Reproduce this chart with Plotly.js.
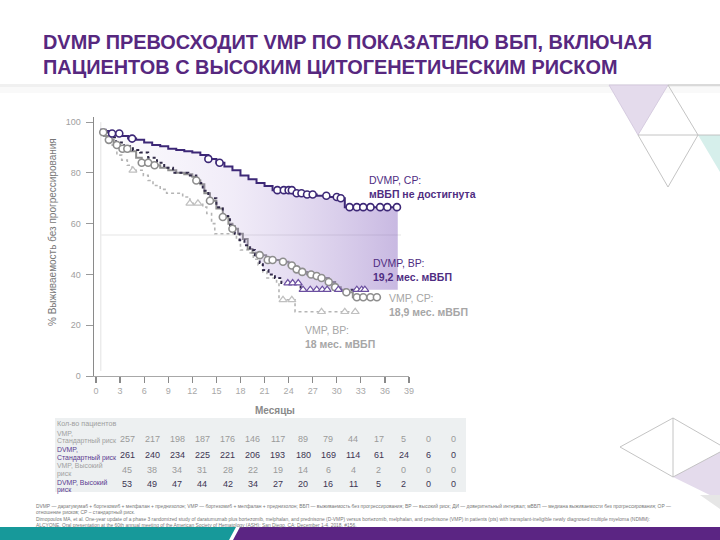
<!DOCTYPE html>
<html><head><meta charset="utf-8">
<script src="https://cdn.plot.ly/plotly-3.0.1.min.js"></script>
<style>html,body{margin:0;padding:0;background:#fff}#chart{width:720px;height:540px}</style>
</head><body><div id="chart"></div>
<script>
// ---------- DATA ----------
const xTickVals = [0, 3, 6, 9, 12, 15, 18, 21, 24, 27, 30, 33, 36, 39];
const yTickVals = [0, 20, 40, 60, 80, 100];

// DVMP, standard risk (solid dark purple)
const dvmpSrMonths = [0.5, 1.2, 2.0, 3.0, 4.0, 5.0, 6.0, 7.0, 8.0, 9.0, 10.0, 11.0, 12.0, 13.0, 14.0, 15.0, 16.0, 17.0, 18.0, 19.0, 20.0, 21.0, 22.0, 24.5, 26.0, 27.5, 29.0, 30.5, 31.0, 37.6];
const dvmpSrSurv   = [97.0, 96.5, 95.5, 94.5, 93.5, 93.0, 92.0, 91.0, 90.5, 89.5, 89.0, 88.5, 88.0, 87.0, 85.5, 84.0, 82.5, 81.0, 79.0, 77.5, 76.0, 74.8, 73.2, 72.0, 71.5, 71.0, 70.5, 70.0, 66.5, 66.5];
const dvmpSrCensor = [2.0, 2.9, 4.5, 14.0, 15.4, 22.6, 23.4, 24.0, 24.4, 25.0, 25.6, 26.3, 27.0, 28.7, 30.0, 30.5, 31.6, 32.5, 33.3, 34.2, 35.4, 36.3, 37.5];

// VMP, standard risk (solid grey)
const vmpSrMonths = [0.5, 1.0, 1.5, 2.2, 3.0, 4.0, 5.0, 5.7, 7.0, 8.0, 9.0, 10.0, 11.0, 12.0, 12.5, 13.0, 13.5, 14.2, 15.0, 15.8, 16.5, 17.0, 17.7, 18.3, 18.9, 19.5, 20.0, 21.2, 23.0, 24.0, 24.8, 25.6, 26.3, 27.2, 28.1, 29.0, 29.8, 30.5, 31.2, 32.0, 35.0];
const vmpSrSurv   = [96.0, 94.5, 93.0, 91.0, 89.5, 88.5, 86.0, 84.0, 83.0, 82.0, 81.0, 80.0, 79.5, 78.5, 77.0, 75.5, 72.0, 69.0, 66.0, 62.6, 60.0, 58.0, 56.0, 54.0, 50.0, 48.5, 47.6, 45.7, 45.0, 43.5, 42.0, 41.0, 40.0, 39.4, 38.6, 37.0, 35.0, 34.0, 33.0, 31.0, 31.0];
const vmpSrCensor = [0.9, 1.6, 2.6, 3.3, 3.9, 5.7, 6.5, 7.3, 12.5, 14.2, 15.8, 17.0, 20.4, 21.4, 22.0, 23.3, 24.4, 25.0, 25.7, 26.8, 27.5, 28.1, 29.0, 29.8, 31.2, 32.5, 33.3, 34.2, 35.0];

// DVMP, high risk (dark dotted)
const dvmpHrMonths = [0.5, 1.5, 2.5, 3.5, 4.6, 5.5, 6.5, 7.6, 8.5, 9.6, 11.5, 12.5, 13.0, 13.3, 14.0, 15.0, 15.8, 16.7, 17.3, 17.9, 18.5, 19.2, 19.8, 20.4, 20.8, 21.5, 22.3, 23.1, 25.5, 33.5];
const dvmpHrSurv   = [96.0, 94.0, 92.0, 90.5, 89.0, 88.0, 86.0, 84.0, 82.0, 80.0, 79.0, 77.0, 76.0, 73.0, 70.0, 66.5, 63.0, 59.5, 56.0, 53.5, 51.5, 49.6, 47.0, 44.5, 41.7, 40.0, 38.6, 36.6, 34.0, 34.0];
const dvmpHrCensor = [23.9, 24.5, 25.2, 25.8, 26.7, 27.5, 28.2, 28.8, 30.2, 32.5, 33.1, 33.5];

// VMP, high risk (light grey dotted)
const vmpHrMonths = [0.5, 1.5, 2.0, 2.6, 3.2, 3.9, 4.5, 5.9, 6.5, 7.1, 8.0, 8.8, 10.8, 11.7, 13.3, 13.8, 14.4, 14.8, 17.5, 18.0, 19.0, 19.6, 20.2, 20.8, 21.3, 22.5, 22.8, 24.8, 32.6];
const vmpHrSurv   = [96.0, 94.0, 91.0, 87.0, 85.0, 83.0, 81.0, 79.0, 77.0, 75.0, 73.5, 72.0, 70.5, 68.0, 66.5, 64.0, 60.0, 56.0, 53.5, 49.6, 48.5, 46.0, 43.7, 41.0, 38.6, 36.6, 30.0, 25.3, 25.3];
const vmpHrCensor = [4.6, 11.7, 12.7, 23.3, 24.4, 28.1, 31.0, 32.3];

// Number at risk table
const riskHeader = 'Кол-во пациентов';
const riskRowLabels = [['VMP,', 'Стандартный риск'], ['DVMP,', 'Стандартный риск'], ['VMP, Высокий', 'риск'], ['DVMP, Высокий', 'риск']];
const vmpSrAtRisk  = [257, 217, 198, 187, 176, 146, 117, 89, 79, 44, 17, 5, 0, 0];
const dvmpSrAtRisk = [261, 240, 234, 225, 221, 206, 193, 180, 169, 114, 61, 24, 6, 0];
const vmpHrAtRisk  = [45, 38, 34, 31, 28, 22, 19, 14, 6, 4, 2, 0, 0, 0];
const dvmpHrAtRisk = [53, 49, 47, 44, 42, 34, 27, 20, 16, 11, 5, 2, 0, 0];

const titleText = 'DVMP ПРЕВОСХОДИТ VMP ПО ПОКАЗАТЕЛЮ ВБП, ВКЛЮЧАЯ<br>ПАЦИЕНТОВ С ВЫСОКИМ ЦИТОГЕНЕТИЧЕСКИМ РИСКОМ';
const footText = 'DVMP — даратумумаб + бортезомиб + мелфалан + преднизолон; VMP — бортезомиб + мелфалан + преднизолон; ВБП — выживаемость без прогрессирования; ВР — высокий риск; ДИ — доверительный интервал; мВБП — медиана выживаемости без прогрессирования; ОР —<br>' +
  'отношение рисков; СР – стандартный риск.<br>' +
  'Dimopoulos MA, et al. One-year update of a phase 3 randomized study of daratumumab plus bortezomib, melphalan, and prednisone (D-VMP) versus bortezomib, melphalan, and prednisone (VMP) in patients (pts) with transplant-ineligible newly diagnosed multiple myeloma (NDMM):<br>' +
  'ALCYONE. Oral presentation at the 60th annual meeting of the American Society of Hematology (ASH); San Diego, CA; December 1-4, 2018. #156.';

// ---------- LAYOUT HELPERS ----------
const W = 720, H = 540, ML = 94, MR = 311, MT = 117, MB = 164;
const PW = W - ML - MR, PH = H - MT - MB;
const px = v => (v - ML) / PW;
const py = v => (H - MB - v) / PH;
const FONT = 'Liberation Sans, Arial, sans-serif';
const DARK_PURPLE = '#3d2877';
const LABEL_PURPLE = '#4f2d82';

function stepAt(ms, ss, t) { let v = ss[0]; for (let i = 0; i < ms.length; i++) if (ms[i] <= t) v = ss[i]; return v; }

const traces = [];
function curve(ms, ss, color, width, dash) {
  traces.push({x: ms, y: ss, type: 'scatter', mode: 'lines', line: {shape: 'hv', color: color, width: width, dash: dash}, hoverinfo: 'skip', showlegend: false});
}
function censor(ms, ss, cs, symbol, color, size, lw) {
  traces.push({x: cs, y: cs.map(t => stepAt(ms, ss, t)), type: 'scatter', mode: 'markers',
    marker: {symbol: symbol, size: size, color: '#ffffff', line: {color: color, width: lw}}, hoverinfo: 'skip', showlegend: false});
}

curve(vmpHrMonths, vmpHrSurv, '#b5b5b5', 1.6, 'dot');
curve(vmpSrMonths, vmpSrSurv, '#8e8e8e', 2, 'solid');
curve(dvmpHrMonths, dvmpHrSurv, '#2a2440', 2, 'dot');
// fill base: DVMP high-risk curve carried forward to end of DVMP standard-risk follow-up
const lastSr = dvmpSrMonths[dvmpSrMonths.length - 1];
traces.push({x: dvmpHrMonths.concat([lastSr]), y: dvmpHrSurv.concat([dvmpHrSurv[dvmpHrSurv.length - 1]]), type: 'scatter', mode: 'lines',
  line: {shape: 'hv', width: 0, color: 'rgba(0,0,0,0)'}, hoverinfo: 'skip', showlegend: false});
traces.push({x: dvmpSrMonths, y: dvmpSrSurv, type: 'scatter', mode: 'lines', line: {shape: 'hv', color: DARK_PURPLE, width: 2},
  fill: 'tonexty', fillgradient: {type: 'horizontal', colorscale: [[0, 'rgba(185,165,220,0.04)'], [0.45, 'rgba(165,135,210,0.16)'], [1, 'rgba(125,88,185,0.42)']]},
  hoverinfo: 'skip', showlegend: false});

censor(vmpHrMonths, vmpHrSurv, vmpHrCensor, 'triangle-up', '#c0c0c0', 7, 1.2);
censor(vmpSrMonths, vmpSrSurv, vmpSrCensor, 'circle', '#8e8e8e', 7, 1.6);
censor(dvmpHrMonths, dvmpHrSurv, dvmpHrCensor, 'triangle-up', '#6b4fa0', 7, 1.2);
censor(dvmpSrMonths, dvmpSrSurv, dvmpSrCensor, 'circle', DARK_PURPLE, 7, 1.6);

// ---------- ANNOTATIONS ----------
const annotations = [];
function ann(text, xp, yp, o) {
  annotations.push(Object.assign({text: text, xref: 'paper', yref: 'paper', x: px(xp), y: py(yp), showarrow: false,
    xanchor: 'left', yanchor: 'middle', align: 'left', font: {family: FONT, size: 10, color: '#888'}}, o || {}));
}
// curve labels
ann('DVMP, СР:<br><b>мВБП не достигнута</b>', 367, 186.5, {font: {family: FONT, size: 10.5, color: LABEL_PURPLE}});
ann('DVMP, ВР:<br><b>19,2 мес. мВБП</b>', 371, 269.5, {font: {family: FONT, size: 10.5, color: LABEL_PURPLE}});
ann('VMP, СР:<br><b>18,9 мес. мВБП</b>', 387, 305, {font: {family: FONT, size: 10.5, color: '#a6a6a6'}});
ann('VMP, ВР:<br><b>18 мес. мВБП</b>', 303, 336.7, {font: {family: FONT, size: 10.5, color: '#a6a6a6'}});
// axis titles
ann('% Выживаемость без прогрессирования', 52, 232, {textangle: -90, xanchor: 'center', font: {family: FONT, size: 10, color: '#777'}});
ann('<b>Месяцы</b>', 275, 410, {xanchor: 'center', font: {family: FONT, size: 10, color: '#8a8a8a'}});
// table
ann(riskHeader, 55, 423.5, {font: {family: FONT, size: 7.2, color: '#a0a0a0'}});
const rowY = [439, 455, 470, 484];
const rowLabelY = [[433, 441.2], [449.4, 457.6], [465.8, 474], [482.2, 490.2]];
const rowData = [vmpSrAtRisk, dvmpSrAtRisk, vmpHrAtRisk, dvmpHrAtRisk];
const rowLabelColors = ['#a0a0a0', '#5a3a90', '#a0a0a0', '#5a3a90'];
const rowNumColors = ['#9a9a9a', '#3c3452', '#9a9a9a', '#3c3452'];
rowData.forEach((row, r) => {
  riskRowLabels[r].forEach((line, k) => ann(line, 55, rowLabelY[r][k], {font: {family: FONT, size: 6.9, color: rowLabelColors[r]}}));
  row.forEach((v, i) => ann(String(v), 127 + 25.15 * i, rowY[r], {xanchor: 'center', font: {family: FONT, size: 9, color: rowNumColors[r]}}));
});
// footnote
ann(footText, 34, 515, {font: {family: FONT, size: 4.9, color: '#777'}});

// ---------- SHAPES ----------
function P(pts) { return pts.map((p, i) => (i ? 'L' : 'M') + px(p[0]) + ',' + py(p[1])).join(' '); }
const shapes = [
  {type: 'rect', xref: 'paper', yref: 'paper', x0: px(0), x1: px(720), y0: py(84), y1: py(87), fillcolor: 'rgba(0,0,0,0.06)', line: {width: 0}, layer: 'below'},
  {type: 'rect', xref: 'paper', yref: 'paper', x0: px(0), x1: px(720), y0: py(87), y1: py(93), fillcolor: 'rgba(0,0,0,0.025)', line: {width: 0}, layer: 'below'},
  {type: 'rect', xref: 'paper', yref: 'paper', x0: px(55), x1: px(466), y0: py(418), y1: py(492), fillcolor: '#edf0f1', line: {width: 0}, layer: 'below'},
  {type: 'path', xref: 'paper', yref: 'paper', path: P([[609, 85], [668, 85], [638, 135]]) + ' Z', fillcolor: '#e4dbec', line: {color: '#cfc4da', width: 0.8}},
  {type: 'path', xref: 'paper', yref: 'paper', path: P([[698, 135], [720, 135], [720, 172]]) + ' Z', fillcolor: '#d6efeb', line: {width: 0}},
  {type: 'path', xref: 'paper', yref: 'paper', path: P([[668, 85], [720, 85]]) + ' ' + P([[668, 85], [698, 135]]) + ' ' + P([[638, 135], [720, 135]]) + ' ' + P([[638, 135], [668, 187], [698, 135]]), line: {color: '#bdbdbd', width: 0.9}},
  {type: 'path', xref: 'paper', yref: 'paper', path: P([[673, 477], [720, 452], [720, 500]]) + ' Z', fillcolor: '#e4dbec', line: {width: 0}},
  {type: 'path', xref: 'paper', yref: 'paper', path: P([[673, 418], [620, 447], [673, 477]]) + ' ' + P([[673, 418], [673, 477]]) + ' ' + P([[673, 418], [720, 445]]) + ' ' + P([[673, 477], [720, 452]]), line: {color: '#bdbdbd', width: 0.9}},
  {type: 'path', xref: 'paper', yref: 'paper', path: P([[700, 495], [720, 495], [720, 509]]) + ' Z', fillcolor: '#e6e6e6', line: {width: 0}},
  {type: 'path', xref: 'paper', yref: 'paper', path: P([[0, 527], [236, 527], [229, 540], [0, 540]]) + ' Z', fillcolor: '#17999a', line: {width: 0}},
  {type: 'path', xref: 'paper', yref: 'paper', path: P([[240, 527], [720, 527], [720, 540], [233, 540]]) + ' Z', fillcolor: '#5b2583', line: {width: 0}},
  // faint reference lines inside plot
  {type: 'line', xref: 'x', yref: 'y', x0: 0.6, x1: 0.6, y0: 2, y1: 100, line: {color: '#e2e2e2', width: 1}, layer: 'below'},
  {type: 'line', xref: 'x', yref: 'y', x0: 0.6, x1: 38, y0: 55.5, y1: 55.5, line: {color: '#eeeeee', width: 1.5}, layer: 'below'}
];

const layout = {
  width: W, height: H,
  margin: {l: ML, r: MR, t: MT, b: MB, pad: 0},
  paper_bgcolor: '#ffffff', plot_bgcolor: 'rgba(0,0,0,0)',
  title: {text: titleText, x: 43 / W, xanchor: 'left', xref: 'container', y: 1 - 48.5 / H, yanchor: 'top', yref: 'container',
    font: {family: FONT, size: 19.9, color: '#57287f', weight: 700}},
  xaxis: {range: [-0.25, 39], tickvals: xTickVals, ticktext: xTickVals.map(String), showgrid: false, zeroline: false,
    showline: true, linecolor: '#a8a8a8', linewidth: 1.2, ticks: 'outside', ticklen: 6, tickwidth: 1.2, tickcolor: '#8a8a8a',
    tickfont: {family: FONT, size: 9, color: '#a8a8a8'}, fixedrange: true},
  yaxis: {range: [0, 102], tickvals: yTickVals, ticktext: yTickVals.map(String), showgrid: false, zeroline: false,
    showline: true, linecolor: '#8a8a8a', linewidth: 1.5, ticks: 'outside', ticklen: 7, tickwidth: 1, tickcolor: '#9a9a9a',
    tickfont: {family: FONT, size: 9, color: '#a0a0a0'}, ticklabelstandoff: 3, fixedrange: true},
  showlegend: false,
  annotations: annotations,
  shapes: shapes
};

Plotly.newPlot('chart', traces, layout, {displayModeBar: false, staticPlot: true});
</script></body></html>
